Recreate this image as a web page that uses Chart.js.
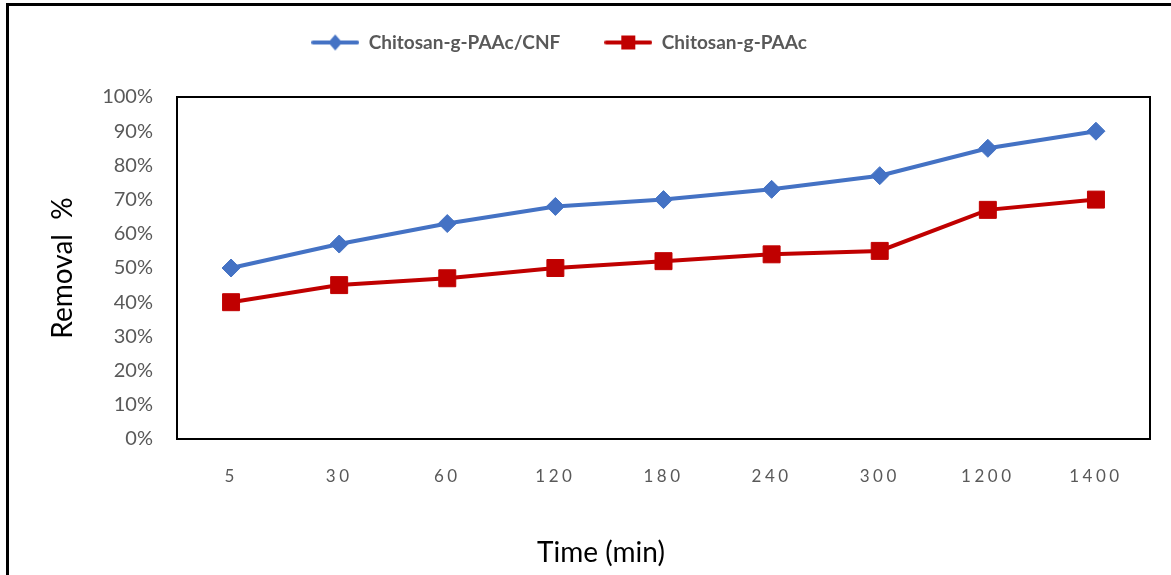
<!DOCTYPE html>
<html>
<head>
<meta charset="utf-8">
<script src="https://cdn.jsdelivr.net/npm/chart.js@4.4.1/dist/chart.umd.min.js"></script>
<style>
  html, body { margin: 0; padding: 0; background: #fff; }
  #wrap { position: relative; width: 1171px; height: 575px; overflow: hidden; }
  #frame { position: absolute; left: 6px; top: 3px; width: 1200px; height: 600px;
           border-left: 3px solid #000; border-top: 3px solid #000; box-sizing: border-box; }
  canvas { position: absolute; left: 0; top: 0; }
</style>
</head>
<body>
<div id="wrap">
  <div id="frame"></div>
  <canvas id="c" width="1171" height="575"></canvas>
</div>
<script>
// ---- data ----
const timeLabels = ['5', '30', '60', '120', '180', '240', '300', '1200', '1400'];
const cnfRemoval = [50, 57, 63, 68, 70, 73, 77, 85, 90];
const paacRemoval = [40, 45, 47, 50, 52, 54, 55, 67, 70];
const seriesNames = ['Chitosan-g-PAAc/CNF', 'Chitosan-g-PAAc'];
const yTitle = 'Removal  %';
const xTitle = 'Time (min)';

const BLUE = '#4472C4';
const RED = '#C00000';
const FONT = 'Lato, "Open Sans", sans-serif';

function legendIcon(color, shape) {
  const cv = document.createElement('canvas');
  cv.width = 48; cv.height = 18;
  const g = cv.getContext('2d');
  g.strokeStyle = color; g.lineWidth = 4; g.lineCap = 'round';
  g.beginPath(); g.moveTo(2, 9); g.lineTo(46, 9); g.stroke();
  g.fillStyle = color;
  g.beginPath();
  if (shape === 'diamond') {
    g.moveTo(24, 1); g.lineTo(31, 9); g.lineTo(24, 17); g.lineTo(17, 9); g.closePath();
  } else {
    g.rect(17, 2, 14, 14);
  }
  g.fill();
  return cv;
}
const icons = [legendIcon(BLUE, 'diamond'), legendIcon(RED, 'square')];

const boxPlugin = {
  id: 'plotBox',
  afterLayout(chart) {
    if (chart.legend) { chart.legend.left -= 16; chart.legend.right -= 16; }
  },
  beforeDraw(chart) {
    const s = chart.scales.x;
    if (s && !s._spaced) {
      const orig = s.drawLabels.bind(s);
      s.drawLabels = function (area) {
        const ctx = this.ctx;
        ctx.save();
        ctx.letterSpacing = '3.5px';
        orig(area);
        ctx.restore();
      };
      s._spaced = true;
    }
  },
  afterDraw(chart) {
    const {ctx, chartArea: a} = chart;
    ctx.save();
    ctx.strokeStyle = '#000';
    ctx.lineWidth = 2;
    ctx.strokeRect(a.left, a.top, a.right - a.left, a.bottom - a.top);
    // x axis title
    ctx.fillStyle = '#000';
    ctx.font = '28px ' + FONT;
    ctx.textAlign = 'center';
    ctx.textBaseline = 'middle';
    ctx.fillText(xTitle, 601, 553);
    ctx.restore();
  }
};

new Chart(document.getElementById('c'), {
  type: 'line',
  data: {
    labels: timeLabels,
    datasets: [
      {
        label: seriesNames[0], data: cnfRemoval,
        borderColor: BLUE, backgroundColor: BLUE, borderWidth: 4,
        pointStyle: 'rectRot', pointRadius: 9, pointBorderWidth: 1,
        pointBackgroundColor: BLUE, pointBorderColor: BLUE, tension: 0
      },
      {
        label: seriesNames[1], data: paacRemoval,
        borderColor: RED, backgroundColor: RED, borderWidth: 4,
        pointStyle: 'rect', pointRadius: 12, pointBorderWidth: 1,
        pointBackgroundColor: RED, pointBorderColor: RED, tension: 0
      }
    ]
  },
  options: {
    responsive: false,
    animation: false,
    devicePixelRatio: 1,
    layout: { padding: { left: 0, right: 21, top: -11, bottom: 0 } },
    plugins: {
      tooltip: { enabled: false },
      subtitle: {
        display: true, text: '', weight: 500, position: 'top',
        font: { size: 10 }, padding: { top: 23, bottom: 0 }
      },
      legend: {
        position: 'top',
        align: 'center',
        labels: {
          usePointStyle: true,
          pointStyleWidth: 48,
          padding: 44,
          color: '#595959',
          font: { family: FONT, size: 19, weight: 'bold' },
          generateLabels(chart) {
            return chart.data.datasets.map((ds, i) => ({
              text: ds.label,
              pointStyle: icons[i],
              fillStyle: ds.borderColor,
              strokeStyle: ds.borderColor,
              lineWidth: 0,
              fontColor: '#595959',
              hidden: false,
              datasetIndex: i
            }));
          }
        }
      }
    },
    scales: {
      x: {
        offset: true,
        grid: { display: false, drawTicks: false },
        border: { display: false },
        ticks: { color: '#595959', padding: 27, font: { family: FONT, size: 17 } },
        afterFit(scale) { scale.height = 136; }
      },
      y: {
        min: 0, max: 100,
        grid: { display: false, drawTicks: false },
        border: { display: false },
        ticks: {
          stepSize: 10, color: '#595959', padding: 24,
          font: { family: FONT, size: 20 },
          callback: (v) => v + '%'
        },
        title: {
          display: true, text: yTitle, color: '#000',
          font: { family: FONT, size: 28 },
          padding: { top: 46, bottom: 0 }
        },
        afterFit(scale) { scale.width = 177; }
      }
    }
  },
  plugins: [boxPlugin]
});
</script>
</body>
</html>
